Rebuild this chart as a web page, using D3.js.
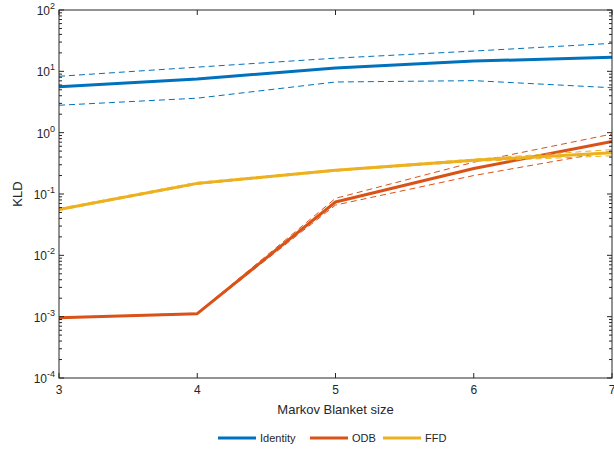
<!DOCTYPE html>
<html>
<head>
<meta charset="utf-8">
<script src="https://cdn.jsdelivr.net/npm/d3@7"></script>
<style>
  body { margin: 0; background: #fff; }
  text { font-family: "Liberation Sans", Arial, sans-serif; fill: #262626; }
</style>
</head>
<body>
<div id="chart"></div>
<script>
const sizes = [3, 4, 5, 6, 7];

const identityMean = [5.6, 7.5, 11.3, 14.7, 16.9];
const identityUpper = [8.3, 11.7, 16.4, 21.4, 28.6];
const identityLower = [2.8, 3.65, 6.7, 7.05, 5.4];

const odbMean = [0.00096, 0.00112, 0.074, 0.26, 0.72];
const odbUpper = [0.00097, 0.00114, 0.085, 0.33, 0.95];
const odbLower = [0.00095, 0.0011, 0.066, 0.2, 0.5];

const ffdMean = [0.056, 0.149, 0.243, 0.355, 0.47];
const ffdUpper = [0.058, 0.155, 0.25, 0.37, 0.53];
const ffdLower = [0.054, 0.143, 0.236, 0.34, 0.42];

const yTicks = [-4, -3, -2, -1, 0, 1, 2];

const series = [
  {name: "Identity", color: "#0072BD", mean: identityMean, upper: identityUpper, lower: identityLower},
  {name: "ODB", color: "#D95319", mean: odbMean, upper: odbUpper, lower: odbLower},
  {name: "FFD", color: "#EDB120", mean: ffdMean, upper: ffdUpper, lower: ffdLower}
];

const width = 614, height = 450;
const margin = {top: 10, right: 2, bottom: 72, left: 59};

const svg = d3.select("#chart").append("svg")
    .attr("width", width)
    .attr("height", height);

const x = d3.scaleLinear().domain([3, 7]).range([margin.left, width - margin.right]);
const y = d3.scaleLog().domain([1e-4, 1e2]).range([height - margin.bottom, margin.top]);

const minor = [];
for (let e = -4; e < 2; e++) {
  for (let k = 2; k <= 9; k++) minor.push(k * Math.pow(10, e));
}

// series
const line = d3.line().x((d, i) => x(sizes[i])).y(d => y(d));

series.forEach(s => {
  const g = svg.append("g").attr("fill", "none").attr("stroke", s.color);
  g.append("path").attr("d", line(s.upper))
      .attr("stroke-width", 1).attr("stroke-dasharray", "6,4");
  g.append("path").attr("d", line(s.lower))
      .attr("stroke-width", 1).attr("stroke-dasharray", "6,4");
  g.append("path").attr("d", line(s.mean))
      .attr("stroke-width", 3).attr("stroke-linejoin", "round");
});

// box
const axisColor = "#262626";
svg.append("rect")
    .attr("x", x(3)).attr("y", y(1e2))
    .attr("width", x(7) - x(3)).attr("height", y(1e-4) - y(1e2))
    .attr("fill", "none").attr("stroke", axisColor).attr("stroke-width", 1);

// x ticks bottom + top
const xAxis = svg.append("g");
sizes.forEach(v => {
  xAxis.append("line").attr("x1", x(v)).attr("x2", x(v))
      .attr("y1", y(1e-4)).attr("y2", y(1e-4) - 5).attr("stroke", axisColor);
  xAxis.append("line").attr("x1", x(v)).attr("x2", x(v))
      .attr("y1", y(1e2)).attr("y2", y(1e2) + 5).attr("stroke", axisColor);
  xAxis.append("text").attr("x", x(v)).attr("y", y(1e-4) + 16)
      .attr("text-anchor", "middle").attr("font-size", 12).text(v);
});

// y ticks left + right
const yAxis = svg.append("g").attr("stroke", axisColor);
yTicks.forEach(e => {
  const v = Math.pow(10, e);
  yAxis.append("line").attr("x1", x(3)).attr("x2", x(3) + 5).attr("y1", y(v)).attr("y2", y(v));
  yAxis.append("line").attr("x1", x(7)).attr("x2", x(7) - 5).attr("y1", y(v)).attr("y2", y(v));
});
minor.forEach(v => {
  yAxis.append("line").attr("x1", x(3)).attr("x2", x(3) + 3).attr("y1", y(v)).attr("y2", y(v));
  yAxis.append("line").attr("x1", x(7)).attr("x2", x(7) - 3).attr("y1", y(v)).attr("y2", y(v));
});

yTicks.forEach(e => {
  const t = svg.append("text")
      .attr("x", x(3) - 4).attr("y", y(Math.pow(10, e)) + 5)
      .attr("text-anchor", "end").attr("font-size", 12);
  t.append("tspan").text("10");
  t.append("tspan").attr("dy", -6).attr("font-size", 9).text(e);
});

// axis labels
svg.append("text")
    .attr("x", (x(3) + x(7)) / 2).attr("y", 414)
    .attr("text-anchor", "middle").attr("font-size", 13)
    .text("Markov Blanket size");

svg.append("text")
    .attr("transform", `translate(22,${(y(1e2) + y(1e-4)) / 2}) rotate(-90)`)
    .attr("text-anchor", "middle").attr("font-size", 13)
    .text("KLD");

// legend
const legendX = [218, 310, 383];
const legend = svg.append("g");
series.forEach((s, i) => {
  legend.append("line")
      .attr("x1", legendX[i]).attr("x2", legendX[i] + 38)
      .attr("y1", 438).attr("y2", 438)
      .attr("stroke", s.color).attr("stroke-width", 3);
  legend.append("text")
      .attr("x", legendX[i] + 42).attr("y", 442)
      .attr("font-size", 11).text(s.name);
});
</script>
</body>
</html>
